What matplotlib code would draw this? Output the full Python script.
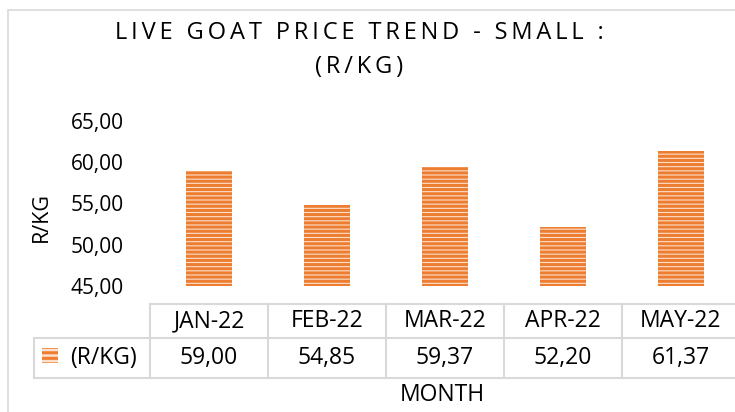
import matplotlib
matplotlib.use('Agg')
from matplotlib import pyplot as plt
from matplotlib.patches import Rectangle
import matplotlib.transforms as mtransforms

months = ['JAN-22', 'FEB-22', 'MAR-22', 'APR-22', 'MAY-22']
prices = [59.00, 54.85, 59.37, 52.20, 61.37]
yticks = [45, 50, 55, 60, 65]
series_name = '(R/KG)'
title_lines = ['LIVE GOAT PRICE TREND - SMALL :', '(R/KG)']

plt.rcParams['font.family'] = ['Open Sans', 'DejaVu Sans']
plt.rcParams['hatch.linewidth'] = 2.2
plt.rcParams['hatch.color'] = '#ED7D31'

W, H = 735, 412
fig = plt.figure(figsize=(W / 100, H / 100), dpi=100)

def fy(py):
    return (H - py) / H

# chart border (cut off at right and bottom)
fig.patches.append(Rectangle((8 / W, -0.1), 1.2, fy(10) + 0.1,
                             transform=fig.transFigure, fill=False,
                             edgecolor='#D9D9D9', linewidth=1.2))

# axes: x from px 150 to 740, y 45 at px 286, 65 at px 121
x0, x1 = 150, 740
yb, yt = 286, 121
ax = fig.add_axes([x0 / W, fy(yb), (x1 - x0) / W, (yb - yt) / H])

x = list(range(len(months)))
ax.bar(x, [p - 45 for p in prices], bottom=45, width=0.39,
       color='#FCE0CB', edgecolor='#ED7D31', hatch='----', linewidth=0)

ax.set_xlim(-0.5, len(months) - 0.5)
ax.set_ylim(45, 65)
ax.set_yticks(yticks)
ax.set_yticklabels([f'{v:.2f}'.replace('.', ',') for v in yticks], fontsize=15)
ax.set_xticks([])
ax.tick_params(axis='y', length=0, pad=19)
for s in ax.spines.values():
    s.set_visible(False)

ax.set_ylabel('R/KG', fontsize=15.5)
ax.yaxis.set_label_coords(-(x0 - 52) / (x1 - x0), (yb - 217) / (yb - yt))

# data table under the chart
trans = mtransforms.blended_transform_factory(ax.transData, fig.transFigure)
col_w = 118.0
r0, r1, r2 = 304, 338, 378
gc = '#D9D9D9'
leg_left = -0.5 - (x0 - 34) / col_w
ax.plot([-0.5, 4.6], [fy(r0), fy(r0)], color=gc, lw=1.5, transform=trans, clip_on=False)
ax.plot([leg_left, 4.6], [fy(r1), fy(r1)], color=gc, lw=1.5, transform=trans, clip_on=False)
ax.plot([leg_left, 4.6], [fy(r2), fy(r2)], color=gc, lw=1.5, transform=trans, clip_on=False)
ax.plot([leg_left, leg_left], [fy(r1), fy(r2)], color=gc, lw=1.5, transform=trans, clip_on=False)
for i in range(len(months) + 1):
    ax.plot([i - 0.5, i - 0.5], [fy(r0), fy(r2)], color=gc, lw=1.5,
            transform=trans, clip_on=False)

for i, (m, p) in enumerate(zip(months, prices)):
    ax.text(i, fy((r0 + r1) / 2), m, ha='center', va='center', fontsize=16.5,
            transform=trans)
    ax.text(i, fy((r1 + r2) / 2), f'{p:.2f}'.replace('.', ','), ha='center',
            va='center', fontsize=16.5, transform=trans)

# legend key inside the table
fig.patches.append(Rectangle((42 / W, fy(363)), 16 / W, 15 / H, transform=fig.transFigure,
                             facecolor='#FCE0CB', edgecolor='#ED7D31', hatch='---',
                             linewidth=0))
fig.text(70 / W, fy((r1 + r2) / 2), series_name, ha='left', va='center', fontsize=16.5)

fig.text(442 / W, fy(395), 'MONTH', ha='center', va='center', fontsize=16.5)

# letter-spaced title
def spaced(s):
    words = s.split(' ')
    return ' \u2009\u2009'.join('\u2009'.join(w) for w in words)

fig.text(359 / W, fy(33), spaced(title_lines[0]), ha='center',
         va='center', fontsize=17)
fig.text(359 / W, fy(67), spaced(title_lines[1]), ha='center', va='center', fontsize=17)

fig.savefig('out.png', dpi=100)
